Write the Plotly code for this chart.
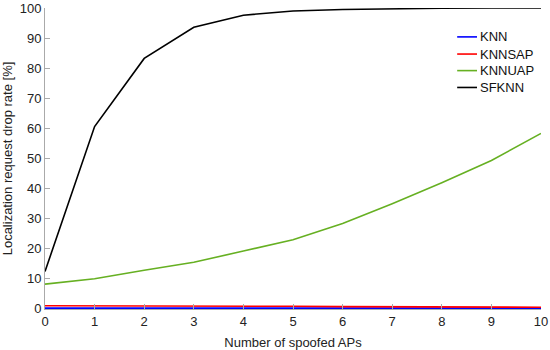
import plotly.graph_objects as go

x_aps = [0, 1, 2, 3, 4, 5, 6, 7, 8, 9, 10]
knn = [0.0, 0.0, 0.0, 0.0, 0.0, 0.0, 0.0, 0.0, 0.0, 0.0, 0.0]
knnsap = [0.8, 0.8, 0.7, 0.7, 0.6, 0.6, 0.5, 0.4, 0.3, 0.3, 0.3]
knnuap = [8.0, 9.8, 12.6, 15.3, 19.0, 22.8, 28.2, 34.8, 41.8, 49.2, 58.2]
sfknn = [12.2, 60.5, 83.2, 93.6, 97.6, 99.0, 99.5, 99.8, 99.9, 100.0, 100.0]

series = [
    ("KNN", knn, "#0000ff"),
    ("KNNSAP", knnsap, "#ff0000"),
    ("KNNUAP", knnuap, "#66b022"),
    ("SFKNN", sfknn, "#000000"),
]

fig = go.Figure()
for name, ys, col in series:
    fig.add_trace(go.Scatter(x=x_aps, y=ys, mode="lines", name=name,
                             line=dict(color=col, width=1.6), showlegend=False))

# manual legend (short line samples like the reference)
leg_y = [0.904, 0.847, 0.792, 0.736]
for (name, ys, col), ly in zip(series, leg_y):
    fig.add_shape(type="line", xref="paper", yref="paper",
                  x0=0.831, x1=0.871, y0=ly, y1=ly,
                  line=dict(color=col, width=1.6))
    fig.add_annotation(xref="paper", yref="paper", x=0.873, y=ly,
                       xanchor="left", yanchor="middle", text=name,
                       showarrow=False, font=dict(size=13, color="#111111"))

axis_common = dict(showline=True, linecolor="#aaaaaa", linewidth=1,
                   ticks="inside", ticklen=5, tickcolor="#aaaaaa",
                   showgrid=False, zeroline=False, mirror=False,
                   automargin=False,
                   tickfont=dict(size=13, color="#222222"))

fig.update_layout(
    width=550, height=350,
    margin=dict(l=45, r=9, t=8, b=41),
    paper_bgcolor="white", plot_bgcolor="white",
    font=dict(family="Liberation Sans, Arial, sans-serif", size=13, color="#222222"),
    xaxis=dict(range=[0, 10], dtick=1,
               title=dict(text="Number of spoofed APs", font=dict(size=13)),
               **axis_common),
    yaxis=dict(range=[-0.3, 100], tickvals=list(range(0, 101, 10)),
               title=dict(text="Localization request drop rate [%]", font=dict(size=13)),
               **axis_common),
    showlegend=False,
)

fig.write_html("out.html", config={"displayModeBar": False},
               post_script="document.body.style.margin='0';")
